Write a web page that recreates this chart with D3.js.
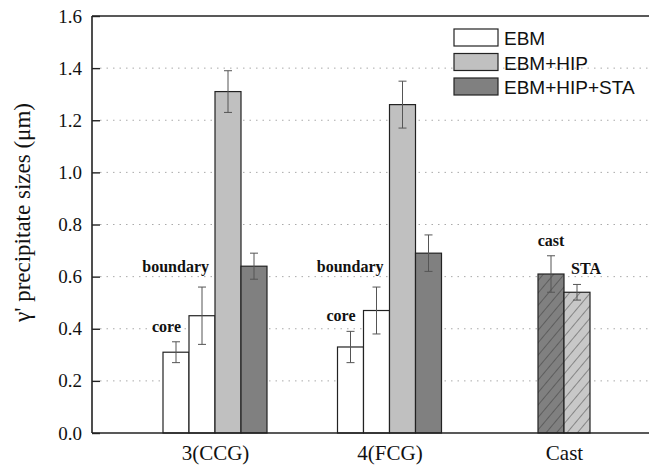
<!DOCTYPE html>
<html>
<head>
<meta charset="utf-8">
<script src="https://cdn.jsdelivr.net/npm/d3@7"></script>
<style>
  html, body { margin: 0; padding: 0; background: #fff; }
  svg { display: block; }
</style>
</head>
<body>
<svg id="chart" width="649" height="466"></svg>
<script>
// ---------- data ----------
const categories = ["3(CCG)", "4(FCG)", "Cast"];
const yTicks = [0.0, 0.2, 0.4, 0.6, 0.8, 1.0, 1.2, 1.4, 1.6];

const seriesNames = ["EBM", "EBM+HIP", "EBM+HIP+STA"];

// groups 3(CCG) and 4(FCG): EBM core, EBM boundary, EBM+HIP, EBM+HIP+STA
const ebmCore = [0.31, 0.33];
const ebmCoreErr = [0.04, 0.06];
const ebmBoundary = [0.45, 0.47];
const ebmBoundaryErr = [0.11, 0.09];
const ebmHip = [1.31, 1.26];
const ebmHipErr = [0.08, 0.09];
const ebmHipSta = [0.64, 0.69];
const ebmHipStaErr = [0.05, 0.07];

// cast group
const castLabels = ["cast", "STA"];
const castValues = [0.61, 0.54];
const castErr = [0.07, 0.03];

// ---------- layout ----------
const pLeft = 92, pTop = 16, pBottom = 433, pRight = 649;
const svg = d3.select("#chart");

const y = d3.scaleLinear().domain([0, 1.6]).range([pBottom, pTop]);
const x = d3.scalePoint().domain(categories).range([215, 564]);
const inner4 = d3.scaleBand().domain([0, 1, 2, 3]).range([-52, 52]);
const inner2 = d3.scaleBand().domain([0, 1]).range([-26, 26]);

const fills = { EBM: "#ffffff", "EBM+HIP": "#c0c0c0", "EBM+HIP+STA": "#808080" };

// hatch patterns
const defs = svg.append("defs");
function hatch(id, bg) {
  const p = defs.append("pattern").attr("id", id)
    .attr("patternUnits", "userSpaceOnUse")
    .attr("width", 8).attr("height", 8)
    .attr("patternTransform", "rotate(40)");
  p.append("rect").attr("width", 8).attr("height", 8).attr("fill", bg);
  p.append("line").attr("x1", 0).attr("y1", 0).attr("x2", 0).attr("y2", 8)
    .attr("stroke", "#333").attr("stroke-width", 0.9);
}
hatch("hatchDark", "#808080");
hatch("hatchLight", "#c8c8c8");

// grid
svg.append("g").selectAll("line")
  .data(yTicks.filter(t => t > 0 && t < 1.6))
  .join("line")
  .attr("x1", pLeft + 8).attr("x2", pRight)
  .attr("y1", d => y(d)).attr("y2", d => y(d))
  .attr("stroke", "#aaa").attr("stroke-width", 1)
  .attr("stroke-dasharray", "1.5,5");

// build bar records
const bars = [];
categories.slice(0, 2).forEach((c, gi) => {
  const cx = x(c);
  const vals = [
    { v: ebmCore[gi], e: ebmCoreErr[gi], s: "EBM" },
    { v: ebmBoundary[gi], e: ebmBoundaryErr[gi], s: "EBM" },
    { v: ebmHip[gi], e: ebmHipErr[gi], s: "EBM+HIP" },
    { v: ebmHipSta[gi], e: ebmHipStaErr[gi], s: "EBM+HIP+STA" }
  ];
  vals.forEach((d, i) => bars.push({
    x0: cx + inner4(i), w: inner4.bandwidth(), v: d.v, e: d.e,
    fill: fills[d.s], idx: i, group: gi
  }));
});
castValues.forEach((v, i) => bars.push({
  x0: x("Cast") + inner2(i), w: inner2.bandwidth(), v: v, e: castErr[i],
  fill: i === 0 ? "url(#hatchDark)" : "url(#hatchLight)", idx: i, group: 2
}));

// bars
svg.append("g").selectAll("rect").data(bars).join("rect")
  .attr("x", d => d.x0).attr("width", d => d.w)
  .attr("y", d => y(d.v)).attr("height", d => y(0) - y(d.v))
  .attr("fill", d => d.fill).attr("stroke", "#222").attr("stroke-width", 1.2);

// error bars
const eg = svg.append("g").attr("stroke", "#555").attr("stroke-width", 1);
bars.forEach(d => {
  const cx = d.x0 + d.w / 2;
  eg.append("line").attr("x1", cx).attr("x2", cx).attr("y1", y(d.v + d.e)).attr("y2", y(d.v - d.e));
  eg.append("line").attr("x1", cx - 4).attr("x2", cx + 4).attr("y1", y(d.v + d.e)).attr("y2", y(d.v + d.e));
  eg.append("line").attr("x1", cx - 4).attr("x2", cx + 4).attr("y1", y(d.v - d.e)).attr("y2", y(d.v - d.e));
});

// bar annotations
const serif = "'Liberation Serif', 'Times New Roman', serif";
const ann = svg.append("g").attr("font-family", serif).attr("font-weight", "bold")
  .attr("font-size", 16).attr("fill", "#111");
bars.forEach(d => {
  if (d.group < 2 && d.idx === 0) {
    ann.append("text").attr("x", d.x0 + 18).attr("y", y(d.v + d.e) - 10)
      .attr("text-anchor", "end").text("core");
  }
  if (d.group < 2 && d.idx === 1) {
    ann.append("text").attr("x", d.x0 + 20).attr("y", y(d.v + d.e) - 15)
      .attr("text-anchor", "end").text("boundary");
  }
  if (d.group === 2) {
    ann.append("text").attr("x", d.x0 + d.w / 2 + (d.idx === 0 ? 0 : 9))
      .attr("y", y(d.v + d.e) - 10)
      .attr("text-anchor", "middle").text(castLabels[d.idx]);
  }
});

// axes lines
const ax = svg.append("g").attr("stroke", "#222").attr("stroke-width", 1.6).attr("fill", "none");
ax.append("line").attr("x1", pLeft).attr("x2", pLeft).attr("y1", pTop).attr("y2", pBottom);
ax.append("line").attr("x1", pLeft).attr("x2", pRight).attr("y1", pTop).attr("y2", pTop);
ax.append("line").attr("x1", pLeft).attr("x2", pRight).attr("y1", pBottom).attr("y2", pBottom);

// left axis
const yAxis = d3.axisLeft(y).tickValues(yTicks).tickFormat(d3.format(".1f"))
  .tickSizeInner(-8).tickSizeOuter(0).tickPadding(10);
const ya = svg.append("g").attr("transform", `translate(${pLeft},0)`).call(yAxis);
ya.attr("font-family", serif).attr("font-size", 19);
ya.select(".domain").remove();
ya.selectAll(".tick line").attr("stroke", "#222").attr("stroke-width", 1.4);
ya.selectAll(".tick text").attr("fill", "#111");

// bottom axis
const xAxis = d3.axisBottom(x).tickSize(0).tickPadding(12);
const xa = svg.append("g").attr("transform", `translate(0,${pBottom})`).call(xAxis);
xa.attr("font-family", serif).attr("font-size", 21);
xa.select(".domain").remove();
xa.selectAll(".tick text").attr("fill", "#111");

// y label
svg.append("text")
  .attr("transform", `translate(30,${(pTop + pBottom) / 2 - 12}) rotate(-90)`)
  .attr("text-anchor", "middle")
  .attr("font-family", serif).attr("font-size", 23).attr("fill", "#111")
  .text("γ' precipitate sizes (μm)");

// legend
const lg = svg.append("g").attr("transform", "translate(454,29)");
seriesNames.forEach((s, i) => {
  const g = lg.append("g").attr("transform", `translate(0,${i * 24.5})`);
  g.append("rect").attr("width", 44).attr("height", 17)
    .attr("fill", fills[s]).attr("stroke", "#222").attr("stroke-width", 1.2);
  g.append("text").attr("x", 50).attr("y", 16)
    .attr("font-family", "'Liberation Sans', Arial, sans-serif")
    .attr("font-size", 19).attr("fill", "#111").text(s);
});
</script>
</body>
</html>
